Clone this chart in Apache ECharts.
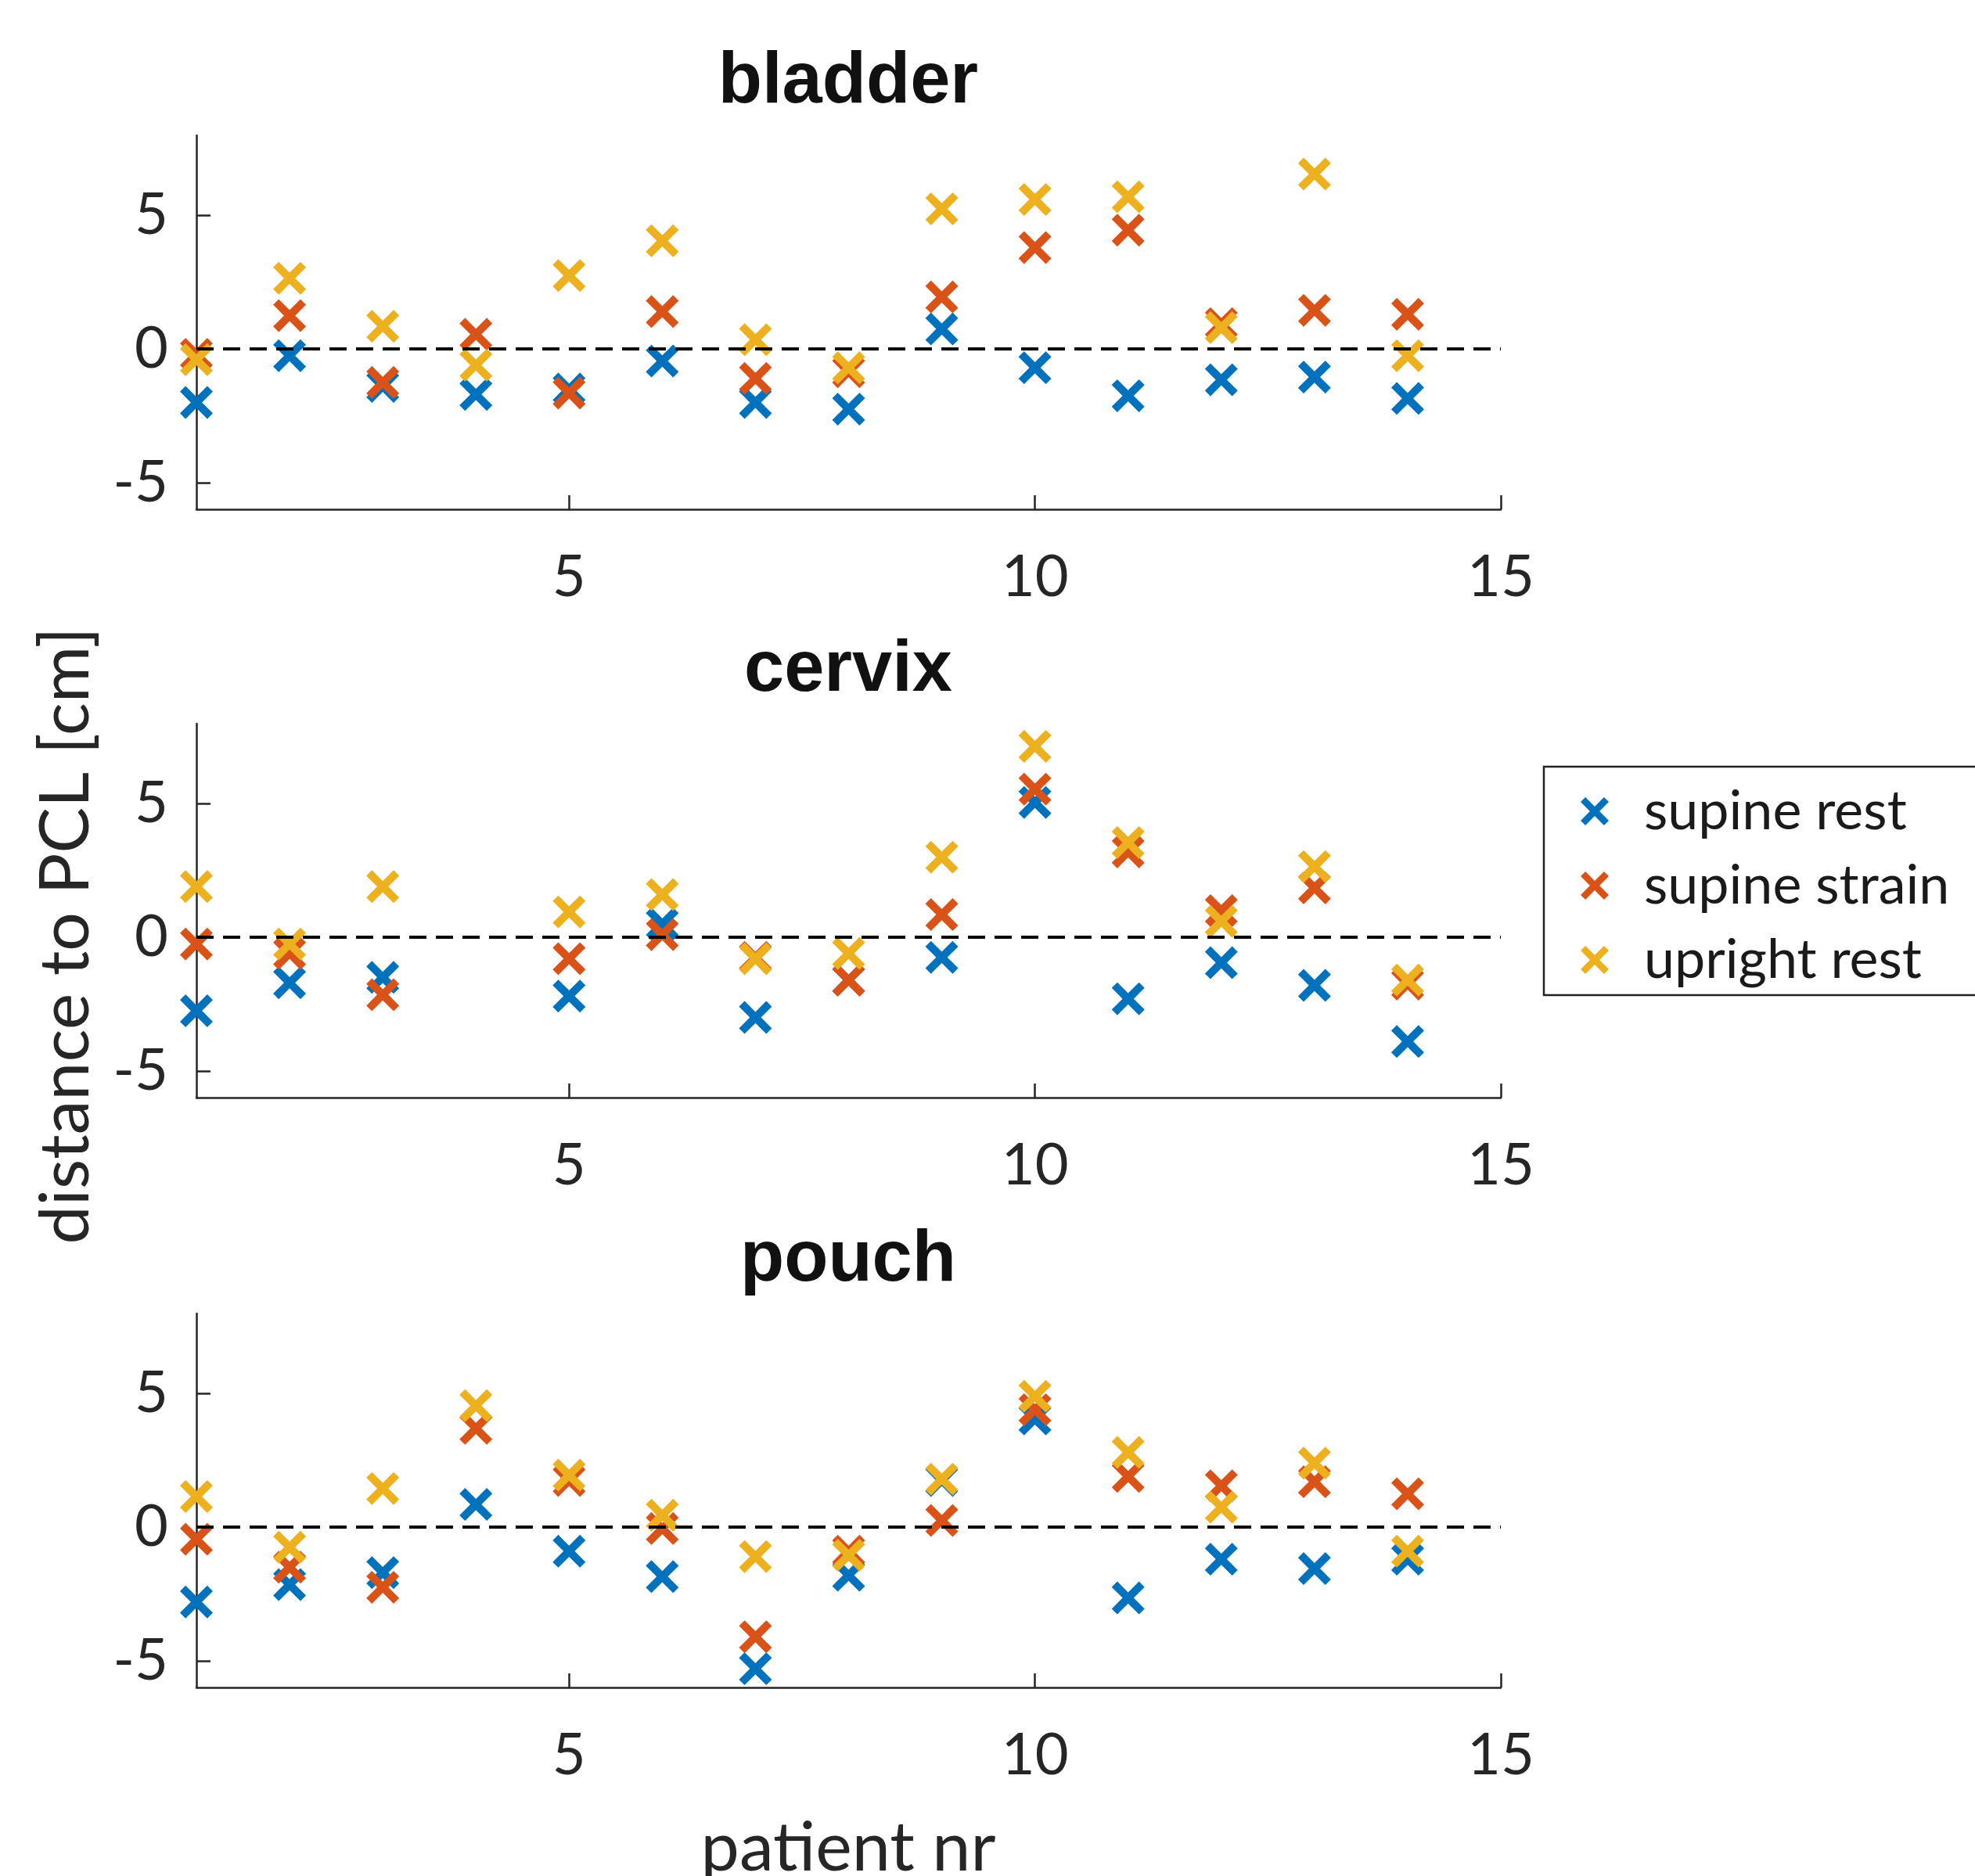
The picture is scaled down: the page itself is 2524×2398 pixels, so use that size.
<!DOCTYPE html>
<html>
<head>
<meta charset="utf-8">
<script src="https://cdn.jsdelivr.net/npm/echarts@6/dist/echarts.min.js"></script>
<style>html,body{margin:0;padding:0;background:#fff;}#c{width:2524px;height:2398px;}</style>
</head>
<body>
<div id="c"></div>
<script>
// ---- data ----
const patients = [1,2,3,4,5,6,7,8,9,10,11,12,13,14];
const panelTitles = ['bladder','cervix','pouch'];
const seriesNames = ['supine rest','supine strain','upright rest'];
const xTicks = [5,10,15];
const yTicks = [-5,0,5];

const bladderSupineRest   = [-2.0,-0.25,-1.4,-1.7,-1.5,-0.45,-2.0,-2.25,0.75,-0.7,-1.75,-1.15,-1.05,-1.85];
const bladderSupineStrain = [-0.2,1.25,-1.25,0.55,-1.65,1.4,-1.1,-0.85,1.95,3.8,4.45,0.95,1.45,1.3];
const bladderUprightRest  = [-0.4,2.65,0.85,-0.6,2.75,4.05,0.35,-0.7,5.25,5.6,5.7,0.8,6.55,-0.25];

const cervixSupineRest   = [-2.75,-1.7,-1.5,null,-2.2,0.5,-3.0,-1.6,-0.75,5.05,-2.3,-0.95,-1.8,-3.9];
const cervixSupineStrain = [-0.25,-0.6,-2.15,null,-0.8,0.1,-0.75,-1.6,0.85,5.55,3.2,1.0,1.85,-1.75];
const cervixUprightRest  = [1.9,-0.25,1.9,null,0.95,1.6,-0.8,-0.6,3.0,7.15,3.55,0.6,2.65,-1.6];

const pouchSupineRest   = [-2.8,-2.15,-1.7,0.85,-0.9,-1.85,-5.3,-1.8,1.75,4.05,-2.65,-1.2,-1.55,-1.2];
const pouchSupineStrain = [-0.45,-1.5,-2.25,3.7,1.75,-0.05,-4.1,-0.9,0.25,4.4,1.9,1.55,1.7,1.25];
const pouchUprightRest  = [1.15,-0.75,1.45,4.55,1.95,0.45,-1.1,-1.05,1.8,4.9,2.8,0.75,2.4,-0.9];

const panels = [
  [bladderSupineRest, bladderSupineStrain, bladderUprightRest],
  [cervixSupineRest, cervixSupineStrain, cervixUprightRest],
  [pouchSupineRest, pouchSupineStrain, pouchUprightRest]
];

// ---- style ----
const colors = ['#0072BD','#D95319','#EDB120'];
const xMark = 'path://M0,17 L17,0 L50,33 L83,0 L100,17 L67,50 L100,83 L83,100 L50,67 L17,100 L0,83 L33,50 Z';
const axisColor = '#262626';
const tickFont = 'Lato';
const gridTops = [173, 925, 1679];
const gridH = 478;
const gridLeft = 251, gridW = 1667;

const grids = [], xAxes = [], yAxes = [], series = [], titles = [];
panels.forEach((vals, p) => {
  grids.push({left: gridLeft, top: gridTops[p], width: gridW, height: gridH});
  xAxes.push({
    type: 'value', gridIndex: p, min: 1, max: 15,
    axisLine: {show: true, onZero: false, lineStyle: {color: axisColor, width: 2.5}},
    axisTick: {show: true, inside: true, length: 18, customValues: xTicks, lineStyle: {color: axisColor, width: 2.5}},
    axisLabel: {customValues: xTicks, margin: 50, color: axisColor, fontFamily: tickFont, fontSize: 74},
    splitLine: {show: false}
  });
  yAxes.push({
    type: 'value', gridIndex: p, min: -6, max: 8,
    axisLine: {show: true, onZero: false, lineStyle: {color: axisColor, width: 2.5}},
    axisTick: {show: true, inside: true, length: 18, customValues: yTicks, lineStyle: {color: axisColor, width: 2.5}},
    axisLabel: {customValues: yTicks, margin: 36, color: axisColor, fontFamily: tickFont, fontSize: 74},
    splitLine: {show: false}
  });
  vals.forEach((arr, s) => {
    const ser = {
      type: 'scatter', name: seriesNames[s], xAxisIndex: p, yAxisIndex: p,
      data: patients.map((x, i) => arr[i] == null ? null : [x, arr[i]]).filter(d => d),
      symbol: xMark, symbolSize: 42,
      itemStyle: {color: colors[s], opacity: 1},
      emphasis: {disabled: true},
      z: 2 + s
    };
    if (s === 2) {
      ser.markLine = {
        silent: true, symbol: 'none', label: {show: false},
        lineStyle: {color: '#000', type: [22, 12], width: 4},
        emphasis: {disabled: true},
        data: [{yAxis: 0}]
      };
    }
    series.push(ser);
  });
  titles.push({
    text: panelTitles[p], left: 1084, top: gridTops[p] - 113, padding: 0,
    textAlign: 'center', textVerticalAlign: 'top',
    textStyle: {fontFamily: 'Liberation Sans', fontWeight: 'bold', fontSize: 92, color: '#111'}
  });
});

const chart = echarts.init(document.getElementById('c'));
chart.setOption({
  animation: false,
  backgroundColor: '#fff',
  title: titles,
  grid: grids,
  xAxis: xAxes,
  yAxis: yAxes,
  legend: {
    data: seriesNames, orient: 'vertical', left: 1973, top: 980,
    icon: xMark, itemWidth: 36, itemHeight: 36, itemGap: 25,
    padding: [22, 80, 10, 47],
    borderColor: '#222', borderWidth: 2.5, backgroundColor: '#fff',
    selectedMode: false,
    textStyle: {fontFamily: tickFont, fontSize: 70, lineHeight: 62, color: '#1a1a1a', padding: [0, 0, 0, 40]}
  },
  graphic: [
    {type: 'text', x: 85, y: 1196, rotation: Math.PI / 2,
     style: {text: 'distance to PCL [cm]', align: 'center', verticalAlign: 'middle',
             font: '88px Lato', fill: axisColor}},
    {type: 'text', x: 1084, y: 2363,
     style: {text: 'patient nr', align: 'center', verticalAlign: 'middle',
             font: '88px Lato', fill: axisColor}}
  ],
  series: series
});
</script>
</body>
</html>
